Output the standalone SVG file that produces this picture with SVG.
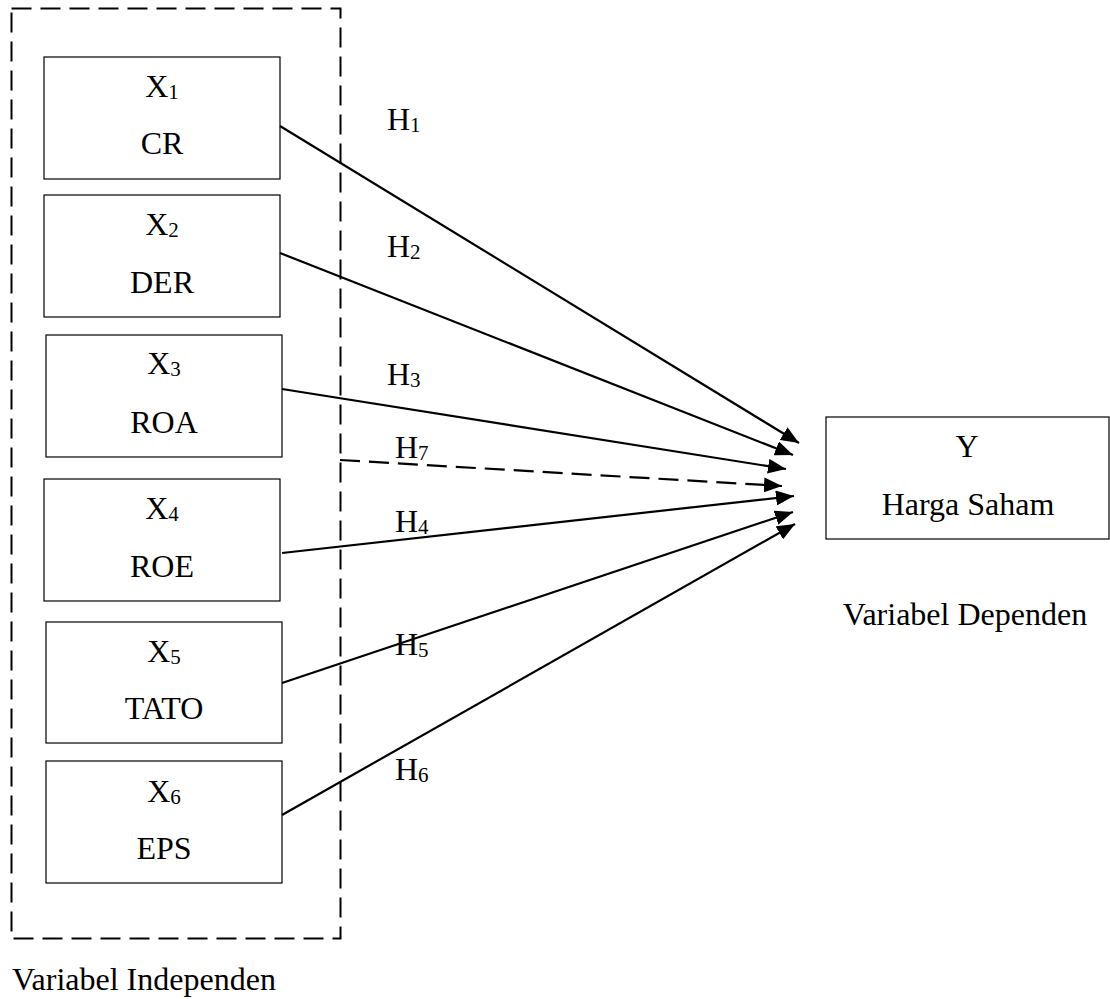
<svg xmlns="http://www.w3.org/2000/svg" width="1110" height="999" viewBox="0 0 1110 999">
<style>
  .box { fill: #fff; stroke: #000; stroke-width: 1.2; }
  .t { font-family: "Liberation Serif", "Times New Roman", serif; font-size: 32px; fill: #000; text-anchor: middle; }
  .tl { font-family: "Liberation Serif", "Times New Roman", serif; font-size: 32px; fill: #000; }
  .sub { font-size: 21px; }
  .edge { stroke: #000; stroke-width: 2.2; fill: none; marker-end: url(#arr); }
  .dash { stroke-dasharray: 20 9; }
</style>
<defs>
  <marker id="arr" viewBox="0 0 18 15" refX="18" refY="7.5" markerWidth="18" markerHeight="15" markerUnits="userSpaceOnUse" orient="auto">
    <path d="M0,0 L18,7.5 L0,15 z" fill="#000"/>
  </marker>
</defs>
<rect width="1110" height="999" fill="#fff"/>
<g id="group-independen">
  <rect x="11.5" y="8.5" width="329" height="930" fill="none" stroke="#000" stroke-width="2" stroke-dasharray="20 9"/>
  <text class="tl" x="12" y="990">Variabel Independen</text>
</g>
<g id="x1">
  <rect class="box" x="44" y="57" width="236" height="122"/>
  <text class="t" x="162" y="97">X<tspan class="sub" dy="2">1</tspan></text>
  <text class="t" x="162" y="154">CR</text>
</g>
<g id="x2">
  <rect class="box" x="44" y="195" width="236" height="122"/>
  <text class="t" x="162" y="235">X<tspan class="sub" dy="2">2</tspan></text>
  <text class="t" x="162" y="293">DER</text>
</g>
<g id="x3">
  <rect class="box" x="46" y="335" width="236" height="122"/>
  <text class="t" x="164" y="374">X<tspan class="sub" dy="2">3</tspan></text>
  <text class="t" x="164" y="433">ROA</text>
</g>
<g id="x4">
  <rect class="box" x="44" y="479" width="236" height="122"/>
  <text class="t" x="162" y="519">X<tspan class="sub" dy="2">4</tspan></text>
  <text class="t" x="162" y="577">ROE</text>
</g>
<g id="x5">
  <rect class="box" x="46" y="622" width="236" height="121"/>
  <text class="t" x="164" y="662">X<tspan class="sub" dy="2">5</tspan></text>
  <text class="t" x="164" y="719">TATO</text>
</g>
<g id="x6">
  <rect class="box" x="46" y="761" width="236" height="122"/>
  <text class="t" x="164" y="802">X<tspan class="sub" dy="2">6</tspan></text>
  <text class="t" x="164" y="859">EPS</text>
</g>
<g id="y">
  <rect class="box" x="826" y="417" width="283" height="122"/>
  <text class="t" x="967" y="457">Y</text>
  <text class="t" x="968" y="515">Harga Saham</text>
  <text class="t" x="965" y="625">Variabel Dependen</text>
</g>
<g id="connectors">
  <line class="edge" x1="280" y1="126" x2="799" y2="443"/>
  <line class="edge" x1="280" y1="253" x2="793" y2="455"/>
  <line class="edge" x1="282" y1="389" x2="786" y2="469"/>
  <line class="edge dash" x1="340" y1="460" x2="782" y2="486"/>
  <line class="edge" x1="282" y1="553" x2="794" y2="496"/>
  <line class="edge" x1="282" y1="683" x2="793" y2="512"/>
  <line class="edge" x1="282" y1="815" x2="795" y2="524"/>
</g>
<g id="labels">
  <text class="tl" x="387" y="130">H<tspan class="sub" dy="2">1</tspan></text>
  <text class="tl" x="387" y="257">H<tspan class="sub" dy="2">2</tspan></text>
  <text class="tl" x="387" y="385">H<tspan class="sub" dy="2">3</tspan></text>
  <text class="tl" x="395" y="458">H<tspan class="sub" dy="2">7</tspan></text>
  <text class="tl" x="395" y="532">H<tspan class="sub" dy="2">4</tspan></text>
  <text class="tl" x="395" y="655">H<tspan class="sub" dy="2">5</tspan></text>
  <text class="tl" x="395" y="780">H<tspan class="sub" dy="2">6</tspan></text>
</g>
</svg>
